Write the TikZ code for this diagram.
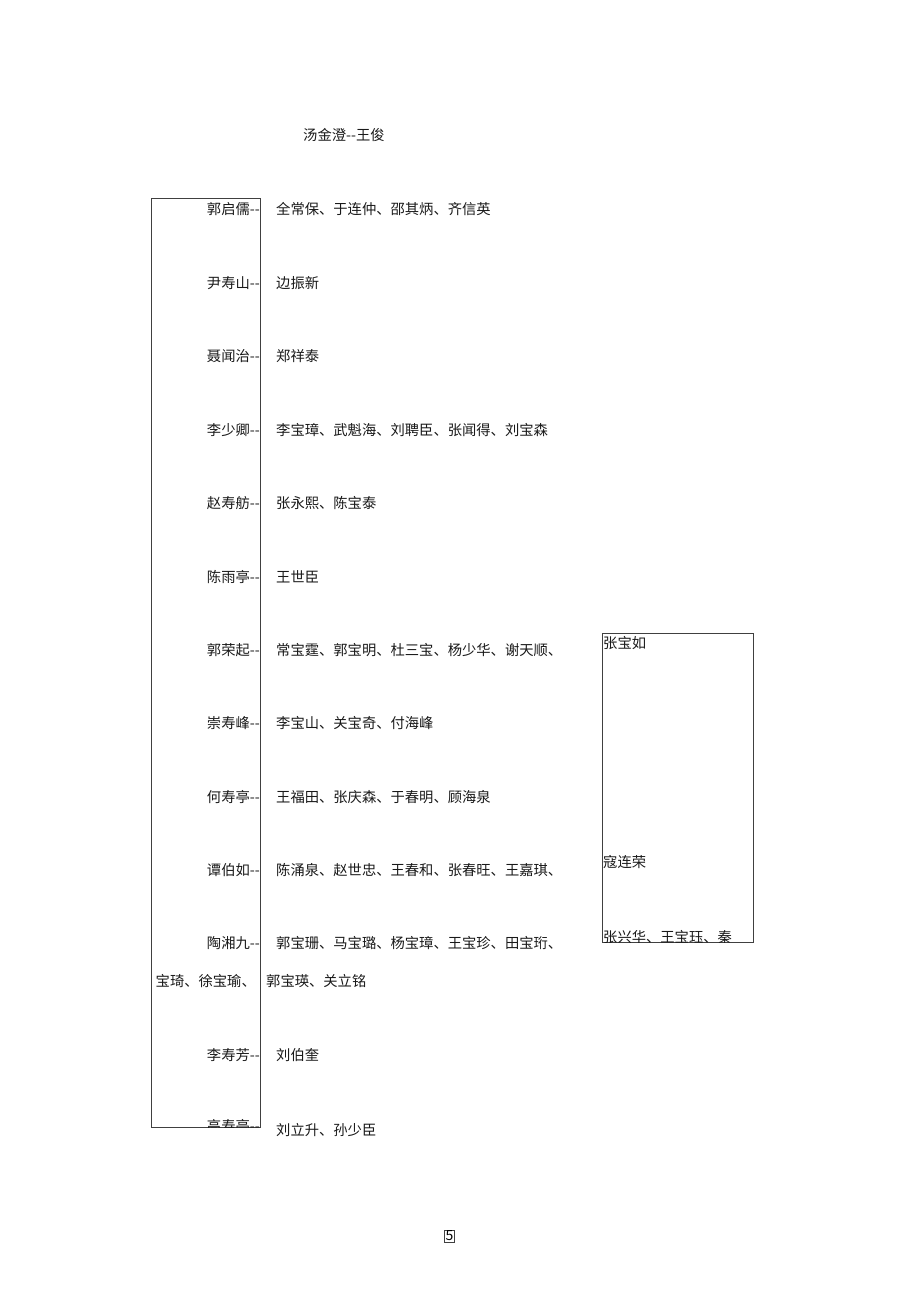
\documentclass[tikz,border=0pt]{standalone}
\usepackage{fontspec}
\newfontfamily\cjk{Noto Sans CJK SC}
\begin{document}
\begin{tikzpicture}[x=1pt,y=-1pt,
  txt/.style={font=\cjk\fontsize{14.3}{17}\selectfont, inner sep=0pt, text=black!90},
  lbl/.style={txt, anchor=base east},
  nm/.style={txt, anchor=base west},
  frame/.style={draw=black!75, line width=0.8pt}]
\useasboundingbox (0,0) rectangle (920,1303);
% title
\node[nm] (title) at (303,141) {汤金澄-{}-王俊};
% left frame
\draw[frame] (151,198) rectangle (260,1127);
\node[lbl] (l1) at (260,214) {郭启儒-{}-};
\node[lbl] (l2) at (260,288) {尹寿山-{}-};
\node[lbl] (l3) at (260,361) {聂闻治-{}-};
\node[lbl] (l4) at (260,435) {李少卿-{}-};
\node[lbl] (l5) at (260,508) {赵寿舫-{}-};
\node[lbl] (l6) at (260,582) {陈雨亭-{}-};
\node[lbl] (l7) at (260,655) {郭荣起-{}-};
\node[lbl] (l8) at (260,728) {崇寿峰-{}-};
\node[lbl] (l9) at (260,802) {何寿亭-{}-};
\node[lbl] (l10) at (260,875) {谭伯如-{}-};
\node[lbl] (l11) at (260,948) {陶湘九-{}-};
\node[lbl] (l11b) at (256,986) {宝琦、徐宝瑜、};
\node[lbl] (l12) at (260,1060) {李寿芳-{}-};
\begin{scope}
\clip (140,1100) rectangle (270,1127);
\node[lbl] (l13) at (260,1131) {高寿亭-{}-};
\end{scope}
% names
\node[nm] (n1) at (276,214) {全常保、于连仲、邵其炳、齐信英};
\node[nm] (n2) at (276,288) {边振新};
\node[nm] (n3) at (276,361) {郑祥泰};
\node[nm] (n4) at (276,435) {李宝璋、武魁海、刘聘臣、张闻得、刘宝森};
\node[nm] (n5) at (276,508) {张永熙、陈宝泰};
\node[nm] (n6) at (276,582) {王世臣};
\node[nm] (n7) at (276,655) {常宝霆、郭宝明、杜三宝、杨少华、谢天顺、};
\node[nm] (n8) at (276,728) {李宝山、关宝奇、付海峰};
\node[nm] (n9) at (276,802) {王福田、张庆森、于春明、顾海泉};
\node[nm] (n10) at (276,875) {陈涌泉、赵世忠、王春和、张春旺、王嘉琪、};
\node[nm] (n11) at (276,948) {郭宝珊、马宝璐、杨宝璋、王宝珍、田宝珩、};
\node[nm] (n11b) at (266,986) {郭宝瑛、关立铭};
\node[nm] (n12) at (276,1060) {刘伯奎};
\node[nm] (n13) at (276,1135) {刘立升、孙少臣};
% right frame
\draw[frame] (602,633) rectangle (753,942);
\node[nm] (r1) at (603,648) {张宝如};
\node[nm] (r2) at (603,867) {寇连荣};
\begin{scope}
\clip (595,900) rectangle (760,942);
\node[nm] (r3) at (603,942) {张兴华、王宝珏、秦};
\end{scope}
% page number
\node[draw=black!75, line width=0.6pt, inner sep=1pt, font=\cjk\fontsize{14}{16}\selectfont] (pg) at (449.5,1236) {5};
\end{tikzpicture}
\end{document}
